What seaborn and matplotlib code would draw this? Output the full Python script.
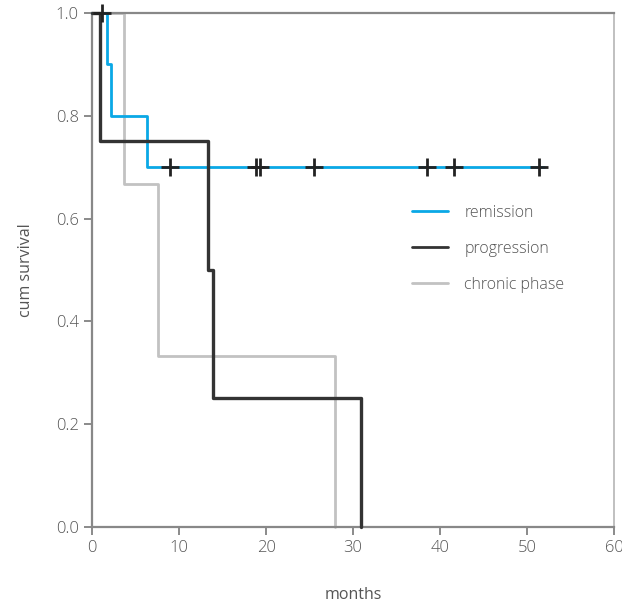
import numpy as np
import pandas as pd
import matplotlib
matplotlib.use("Agg")
import matplotlib.pyplot as plt
import seaborn as sns

# Kaplan-Meier step curves
groups = ["remission", "progression", "chronic phase"]
remission_t = [0, 1.7, 2.15, 6.3, 52.0]
remission_s = [1.0, 0.9, 0.8, 0.7, 0.7]
progression_t = [0, 0.9, 13.3, 13.9, 30.9]
progression_s = [1.0, 0.75, 0.5, 0.25, 0.0]
chronic_t = [0, 3.7, 7.6, 27.9]
chronic_s = [1.0, 0.667, 0.333, 0.0]

# censored observations (drawn as +)
censor_t = [1.1, 9.0, 18.9, 19.3, 25.5, 38.5, 41.6, 51.4]
censor_s = [1.0, 0.7, 0.7, 0.7, 0.7, 0.7, 0.7, 0.7]

colors = {"remission": "#0aa8e6", "progression": "#333333", "chronic phase": "#c2c2c2"}

df = pd.concat([
    pd.DataFrame({"months": remission_t, "surv": remission_s, "group": "remission"}),
    pd.DataFrame({"months": progression_t, "surv": progression_s, "group": "progression"}),
    pd.DataFrame({"months": chronic_t, "surv": chronic_s, "group": "chronic phase"}),
])
cens = pd.DataFrame({"months": censor_t, "surv": censor_s})

sns.set_style("white")
plt.rcParams["font.family"] = ["Open Sans", "DejaVu Sans"]
plt.rcParams["font.weight"] = "light"

fig = plt.figure(figsize=(6.22, 6.05), dpi=100)
ax = fig.add_axes([0.148, 0.129, 0.839, 0.8495])

sns.lineplot(data=df, x="months", y="surv", hue="group", hue_order=groups,
             palette=colors, drawstyle="steps-post", estimator=None,
             linewidth=2, ax=ax)
for line, z in zip(ax.lines[:3], [3, 4, 2]):
    line.set_zorder(z)
    line.set_clip_on(False)
ax.lines[1].set_linewidth(2.4)

sns.scatterplot(data=cens, x="months", y="surv", marker="+", color="#222222",
                s=150, linewidth=2.0, zorder=6, legend=False, ax=ax, clip_on=False)

ax.set_xlim(0, 60)
ax.set_ylim(0, 1.0)
ax.set_xticks(np.arange(0, 61, 10))
ax.set_yticks(np.arange(0, 1.01, 0.2))
ax.set_yticklabels([f"{v:.1f}" for v in np.arange(0, 1.01, 0.2)])
ax.tick_params(axis="both", direction="out", length=6, width=1.2, color="#777777",
               labelsize=12, labelcolor="#555555", bottom=True, left=True)

for side in ["left", "bottom", "top"]:
    ax.spines[side].set_color("#888888")
    ax.spines[side].set_linewidth(1.6)
ax.spines["right"].set_color("#c0c0c0")
ax.spines["right"].set_linewidth(1.4)

ax.set_xlabel("months", fontsize=11.5, color="#555555", labelpad=22)
ax.set_ylabel("cum survival", fontsize=11.5, color="#555555", labelpad=16)

handles, labels = ax.get_legend_handles_labels()
leg = ax.legend(handles, labels, loc="upper left", bbox_to_anchor=(0.585, 0.655),
                frameon=False, fontsize=11.5, labelspacing=1.25, handlelength=2.3,
                handletextpad=1.0)
for t in leg.get_texts():
    t.set_color("#555555")

fig.savefig("out.png", dpi=100)
